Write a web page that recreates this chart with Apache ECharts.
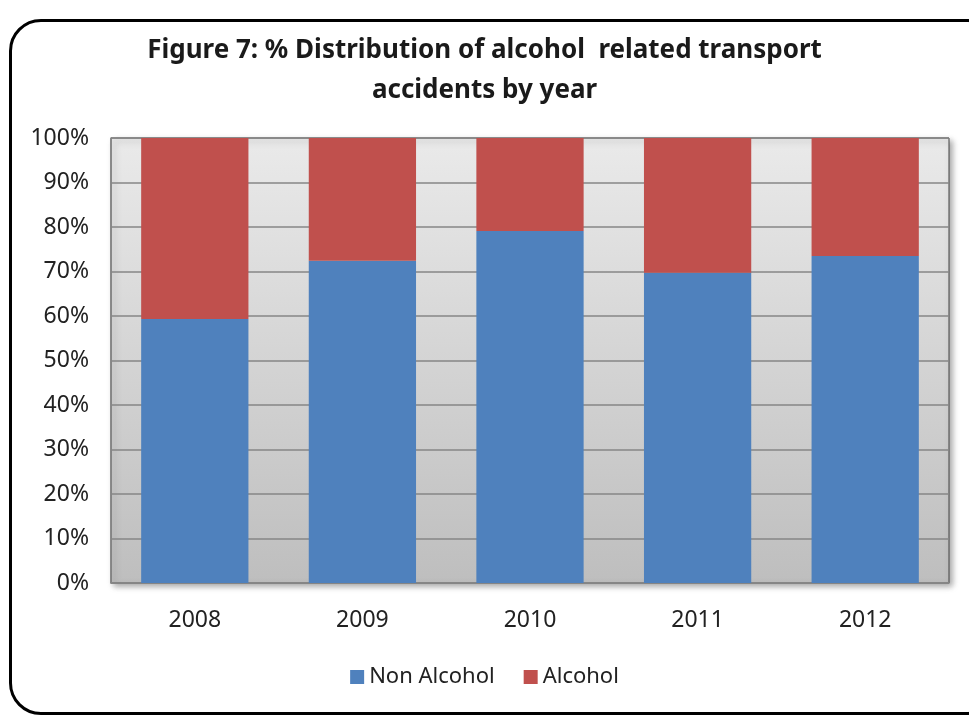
<!DOCTYPE html>
<html>
<head>
<meta charset="utf-8">
<script src="https://cdn.jsdelivr.net/npm/echarts@6/dist/echarts.min.js"></script>
<style>
  html, body { margin: 0; padding: 0; background: #fff; }
  #frame {
    position: absolute; left: 9px; top: 19px; width: 985px; height: 690px;
    border: 3px solid #000; border-radius: 32px; background: #fff;
  }
  #chart { position: absolute; left: 0; top: 0; width: 969px; height: 715px; }
</style>
</head>
<body>
<div id="frame"></div>
<div id="chart"></div>
<script>
  // 年份和各年占比（%）
  const years = ['2008', '2009', '2010', '2011', '2012'];
  const nonAlcohol = [59.3, 72.4, 79.1, 69.7, 73.5];
  const alcohol = [40.7, 27.6, 20.9, 30.3, 26.5];
  const legendNames = ['Non Alcohol', 'Alcohol'];

  let myChart = echarts.init(document.getElementById('chart'), null, { renderer: 'canvas' });
  const font = 'Noto Sans';
  let option = {
    animation: false,
    title: {
      text: 'Figure 7: % Distribution of alcohol  related transport\naccidents by year',
      left: 'center',
      top: 26,
      textStyle: {
        fontFamily: font,
        fontWeight: 'bold',
        fontSize: 26,
        lineHeight: 40,
        color: '#1a1a1a'
      }
    },
    legend: {
      data: legendNames,
      bottom: 22,
      left: 'center',
      icon: 'rect',
      itemWidth: 14,
      itemHeight: 14,
      itemGap: 29,
      textStyle: { fontFamily: font, fontSize: 22, color: '#222' }
    },
    grid: {
      left: 111,
      right: 20,
      top: 138,
      bottom: 132,
      show: true,
      borderWidth: 1,
      borderColor: '#444',
      backgroundColor: new echarts.graphic.LinearGradient(0, 0, 0, 1, [
        { offset: 0, color: '#eaeaea' },
        { offset: 1, color: '#bebebe' }
      ]),
      shadowColor: 'rgba(0,0,0,0.35)',
      shadowBlur: 6,
      shadowOffsetX: 3,
      shadowOffsetY: 3
    },
    xAxis: {
      type: 'category',
      data: years,
      axisTick: { show: false },
      axisLine: { show: true, lineStyle: { color: '#868686', width: 1.5 } },
      axisLabel: { fontFamily: font, fontSize: 23, color: '#222', margin: 26 }
    },
    yAxis: {
      type: 'value',
      min: 0,
      max: 100,
      interval: 10,
      axisLine: { show: true, lineStyle: { color: '#868686', width: 1.5 } },
      axisTick: { show: false },
      splitLine: { lineStyle: { color: '#868686', width: 1.5 } },
      axisLabel: { formatter: '{value}%', fontFamily: font, fontSize: 23, color: '#222', margin: 22 }
    },
    series: [
      {
        name: legendNames[0],
        type: 'bar',
        stack: 'total',
        barWidth: '64%',
        itemStyle: { color: '#4f81bd' },
        data: nonAlcohol
      },
      {
        name: legendNames[1],
        type: 'bar',
        stack: 'total',
        itemStyle: { color: '#c0504d' },
        data: alcohol
      }
    ]
  };
  myChart.setOption(option);
</script>
</body>
</html>
